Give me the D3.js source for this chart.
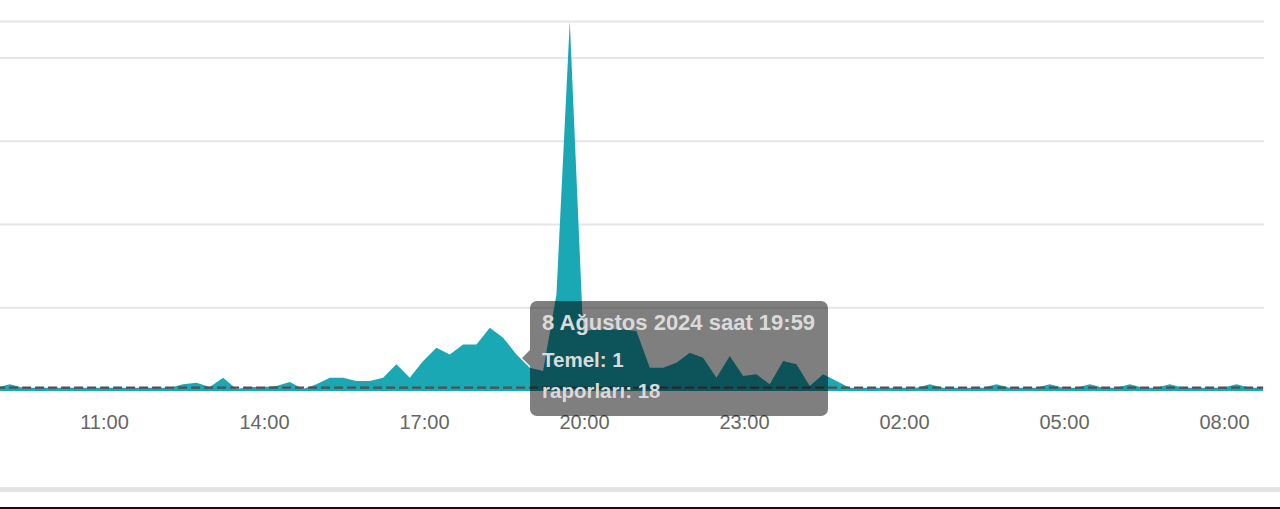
<!DOCTYPE html>
<html>
<head>
<meta charset="utf-8">
<script src="https://cdn.jsdelivr.net/npm/d3@7"></script>
<style>
  html, body { margin: 0; padding: 0; background: #fff; overflow: hidden; }
  svg { display: block; }
</style>
</head>
<body>
<svg id="chart" width="1280" height="509"></svg>
<script>
// ---- data ----
const startTime = "2024-08-08T08:44";   // first sample, 15-minute sampling
const stepMinutes = 15;
const reports = [
  1, 1, 2, 1, 1, 1, 1, 1, 1, 1, 1, 1, 1, 1,        // 08:44 .. 11:59
  1, 2, 2.5, 1.2,                                  // 12:14 .. 12:59
  4, 0.6, 1.2, 1.2,                                // 13:xx
  1.5, 2.7, 0.6, 2,                                // 14:xx
  4, 4, 3, 3,                                      // 15:xx
  4, 8, 4, 9,                                      // 16:xx
  13, 11, 14, 14,                                  // 17:xx
  19, 16, 11, 7,                                   // 18:xx
  6, 29, 111, 18,                                  // 19:xx
  18.5, 18.5, 18.5, 18,                            // 20:xx
  7, 7, 8.5, 11.5,                                 // 21:xx
  10, 4, 10.5, 4.5,                                // 22:xx
  5, 2, 9, 8,                                      // 23:xx
  1.5, 5, 3, 1,                                    // 00:xx
  1, 1, 1, 1,                                      // 01:xx
  1, 2, 1, 1,                                      // 02:xx
  1, 1, 2, 1,                                      // 03:xx
  1, 1, 2, 1,                                      // 04:xx
  1, 2, 1, 1,                                      // 05:xx
  2, 1, 1, 2,                                      // 06:xx
  1, 1, 1, 1,                                      // 07:xx
  2, 1, 1                                          // 08:14 .. 08:44
];
const baselineValue = 1;           // "Temel"
const yMax = 111;
const yGridValues = [25, 50, 75, 100];
const xTickLabels = ["2024-08-08T11:00","2024-08-08T14:00","2024-08-08T17:00","2024-08-08T20:00",
                     "2024-08-08T23:00","2024-08-09T02:00","2024-08-09T05:00","2024-08-09T08:00"];
const tooltipLines = ["8 Ağustos 2024 saat 19:59", "Temel: 1", "raporları: 18"];

// ---- build ----
const parse = d3.timeParse("%Y-%m-%dT%H:%M");
const t0 = parse(startTime);
const data = reports.map((v, i) => ({ t: d3.timeMinute.offset(t0, i * stepMinutes), v }));
const tickDates = xTickLabels.map(parse);

const svg = d3.select("#chart");
const font = "'Liberation Sans', Arial, sans-serif";

const x = d3.scaleTime()
  .domain([tickDates[0], tickDates[tickDates.length - 1]])
  .range([104, 1224]);
const y = d3.scaleLinear().domain([0, yMax]).range([391, 21.5]);
const plotRight = 1264;

// gridlines
const grid = svg.append("g");
grid.selectAll("line.g")
  .data(yGridValues.concat([yMax]))
  .join("line")
  .attr("x1", 0).attr("x2", plotRight)
  .attr("y1", d => y(d)).attr("y2", d => y(d))
  .attr("stroke", "#e6e6e6").attr("stroke-width", 2);

// area
const area = d3.area()
  .x(d => x(d.t))
  .y0(y(0))
  .y1(d => y(d.v))
  .curve(d3.curveLinear);
svg.append("path")
  .datum(data)
  .attr("d", area)
  .attr("fill", "#1aa8b4");

// baseline dashed line
svg.append("line")
  .attr("x1", x(data[0].t)).attr("x2", x(data[data.length - 1].t))
  .attr("y1", y(baselineValue)).attr("y2", y(baselineValue))
  .attr("stroke", "#505050").attr("stroke-width", 2.2)
  .attr("stroke-dasharray", "9,4");

// x axis
const xAxis = d3.axisBottom(x)
  .tickValues(tickDates)
  .tickFormat(d3.timeFormat("%H:%M"))
  .tickSize(0)
  .tickPadding(0);
const ax = svg.append("g").attr("transform", "translate(0,415)").call(xAxis);
ax.select(".domain").remove();
ax.selectAll("text")
  .attr("dy", "0.71em")
  .attr("fill", "#666")
  .style("font-family", font)
  .style("font-size", "20px");

// bottom bands
svg.append("rect").attr("x", 0).attr("y", 487).attr("width", 1280).attr("height", 5).attr("fill", "#e3e3e3");
svg.append("rect").attr("x", 0).attr("y", 507).attr("width", 1280).attr("height", 2).attr("fill", "#111");

// tooltip
const tip = svg.append("g");
tip.append("path")
  .attr("d", "M530,350 L522,358 L530,366 Z")
  .attr("fill", "rgba(0,0,0,0.5)");
tip.append("rect")
  .attr("x", 530).attr("y", 301).attr("width", 298).attr("height", 115)
  .attr("rx", 7).attr("ry", 7)
  .attr("fill", "rgba(0,0,0,0.5)");
const baselines = [330, 367, 398];
tip.selectAll("text")
  .data(tooltipLines)
  .join("text")
  .attr("x", 542)
  .attr("y", (d, i) => baselines[i])
  .attr("fill", "#dadada")
  .style("font-family", font)
  .style("font-weight", "bold")
  .style("font-size", (d, i) => i === 0 ? "22px" : "20.5px")
  .text(d => d);
</script>
</body>
</html>
